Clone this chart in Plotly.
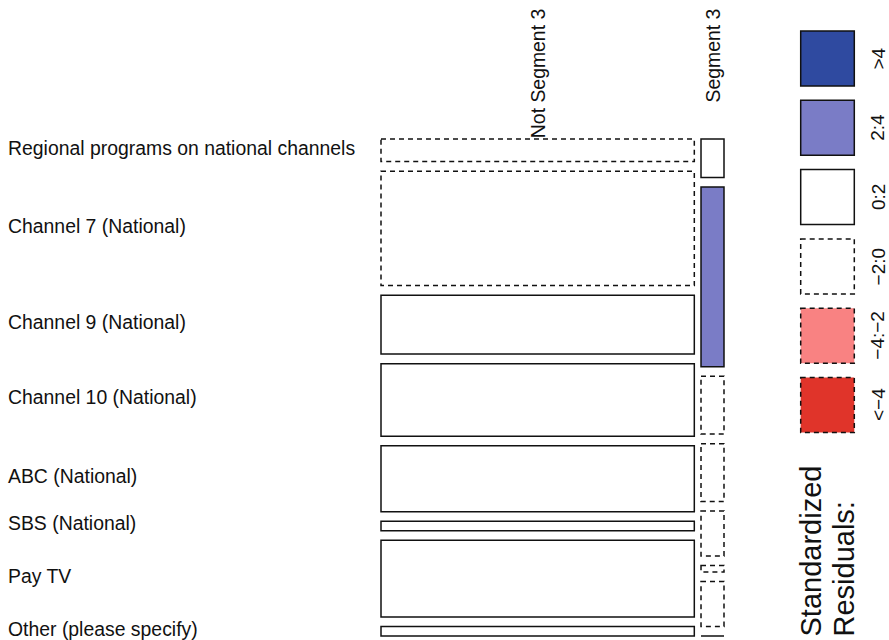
import plotly.graph_objects as go
import numpy as np

# ---------------- data ----------------
channels = [
    "Regional programs on national channels",
    "Channel 7 (National)",
    "Channel 9 (National)",
    "Channel 10 (National)",
    "ABC (National)",
    "SBS (National)",
    "Pay TV",
    "Other (please specify)",
]
segments = ["Not Segment 3", "Segment 3"]
not_segment3 = [48, 243, 125, 154, 140, 20, 163, 20]
segment3 = [6, 28, 9, 9, 7, 1, 7, 0]

legend_labels = [">4", "2:4", "0:2", "\u22122:0", "\u22124:\u22122", "<\u22124"]

# ---------------- styles / layout constants ----------------
W, H = 889, 640
X0, X1, XGAP = 381.0, 724.0, 6.7
Y0, Y1, YGAP = 139.0, 636.0, 9.6
FONT = "Liberation Sans, Arial, sans-serif"
DARK_BLUE = "#2F4AA0"
LIGHT_BLUE = "#7A7CC6"
PINK = "#F98282"
RED = "#E0342A"
DASH = "5px,4px"
LW = 1.5
EDGE = "#111111"
TXT = "#111111"
LABEL_SHIFT = -2.5

# styles per legend class (fill, dashed)
classes = [
    (DARK_BLUE, False),
    (LIGHT_BLUE, False),
    ("white", False),
    ("white", True),
    (PINK, True),
    (RED, True),
]


def classify(r):
    if r > 4:
        return 0
    if r > 2:
        return 1
    if r >= 0:
        return 2
    if r > -2:
        return 3
    if r > -4:
        return 4
    return 5


# ---------------- mosaic computation ----------------
table = np.array([not_segment3, segment3], dtype=float)  # columns x rows
total = table.sum()
col_tot = table.sum(axis=1)
row_tot = table.sum(axis=0)
expected = np.outer(col_tot, row_tot) / total
resid = (table - expected) / np.sqrt(expected)

n_rows = len(channels)
avail_w = X1 - X0 - XGAP * (len(segments) - 1)
avail_h = Y1 - Y0 - YGAP * (n_rows - 1)

shapes = []
annotations = []

x = X0
col_centers = []
row_centers_first = []
for ci in range(len(segments)):
    w = avail_w * col_tot[ci] / total
    y = Y0
    for ri in range(n_rows):
        h = avail_h * table[ci, ri] / col_tot[ci]
        fill, dashed = classes[classify(resid[ci, ri])]
        shapes.append(dict(
            type="rect", xref="x", yref="y",
            x0=x, x1=x + w, y0=y, y1=y + h,
            fillcolor=fill,
            line=dict(color=EDGE, width=LW, dash=DASH if dashed else "solid"),
            layer="above",
        ))
        if ci == 0:
            row_centers_first.append(y + h / 2)
        y += h + YGAP
    col_centers.append(x + w / 2)
    x += w + XGAP

# row labels
for name, yc in zip(channels, row_centers_first):
    annotations.append(dict(
        x=7, y=yc + LABEL_SHIFT, xref="x", yref="y", text=name, showarrow=False,
        xanchor="left", yanchor="middle", borderpad=0,
        font=dict(family=FONT, size=19.4, color=TXT),
    ))

# column labels (rotated, top-justified)
for name, xc in zip(segments, col_centers):
    annotations.append(dict(
        x=xc, y=7, xref="x", yref="y", text=name, showarrow=False,
        textangle=-90, xanchor="center", yanchor="top",
        font=dict(family=FONT, size=19.4, color=TXT),
    ))

# ---------------- legend ----------------
LX0, LX1 = 800.7, 854.3
L_TOP, L_H, L_STEP = 31.0, 55.0, 69.3
for i, (lab, (fill, dashed)) in enumerate(zip(legend_labels, classes)):
    t = L_TOP + i * L_STEP
    shapes.append(dict(
        type="rect", xref="x", yref="y",
        x0=LX0, x1=LX1, y0=t, y1=t + L_H,
        fillcolor=fill,
        line=dict(color=EDGE, width=LW, dash=DASH if dashed else "solid"),
        layer="above",
    ))
    annotations.append(dict(
        x=878, y=t + L_H / 2, xref="x", yref="y", text=lab, showarrow=False,
        textangle=-90, xanchor="center", yanchor="middle",
        font=dict(family=FONT, size=19, color=TXT),
    ))

for txt, xc in [("Standardized", 810), ("Residuals:", 843)]:
    annotations.append(dict(
        x=xc, y=639, xref="x", yref="y", text=txt, showarrow=False,
        textangle=-90, xanchor="center", yanchor="bottom",
        font=dict(family=FONT, size=29, color=TXT),
    ))

fig = go.Figure()
fig.add_trace(go.Scatter(x=[0, W], y=[0, H], mode="markers",
                         marker=dict(opacity=0), hoverinfo="skip",
                         showlegend=False))
fig.update_layout(
    width=W, height=H,
    margin=dict(l=0, r=0, t=0, b=0),
    paper_bgcolor="white", plot_bgcolor="white",
    xaxis=dict(range=[0, W], visible=False, fixedrange=True),
    yaxis=dict(range=[H, 0], visible=False, fixedrange=True),
    shapes=shapes, annotations=annotations,
    showlegend=False,
)
fig.write_html(
    "out.html",
    config={"displayModeBar": False},
    post_script="document.body.style.margin='0';document.body.style.overflow='hidden';",
)
